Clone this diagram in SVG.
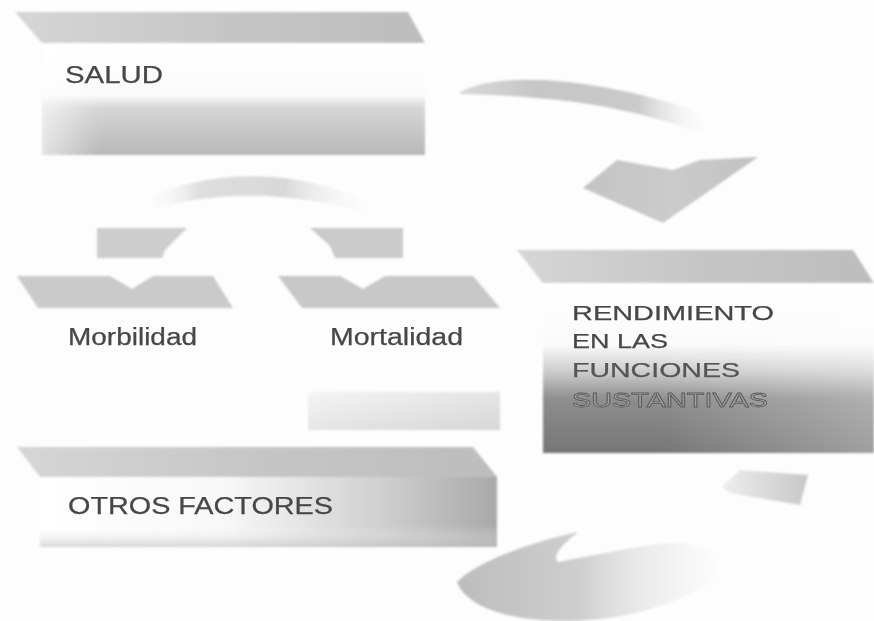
<svg xmlns="http://www.w3.org/2000/svg" width="874" height="621" viewBox="0 0 874 621">
<defs>
<style>
.lbl{font-family:"Liberation Sans",Arial,sans-serif;fill:#474747;stroke:#474747;stroke-width:0.25;}
.band{fill:url(#gBand);}
</style>
<filter id="soft" x="-5%" y="-5%" width="110%" height="110%"><feGaussianBlur stdDeviation="0.8"/></filter>
<linearGradient id="gBand" x1="0" y1="0" x2="1" y2="0">
<stop offset="0" stop-color="#d6d6d6"/><stop offset="0.5" stop-color="#c6c6c6"/><stop offset="1" stop-color="#bdbdbd"/>
</linearGradient>
<linearGradient id="gSaludFront" x1="0" y1="0" x2="0" y2="1">
<stop offset="0" stop-color="#ffffff"/><stop offset="0.46" stop-color="#fbfbfb"/><stop offset="0.58" stop-color="#d6d6d6"/><stop offset="1" stop-color="#b8b8b8"/>
</linearGradient>
<linearGradient id="gLeftFade" x1="0" y1="0" x2="1" y2="0">
<stop offset="0" stop-color="#ffffff" stop-opacity="0.6"/><stop offset="0.15" stop-color="#ffffff" stop-opacity="0"/>
</linearGradient>
<linearGradient id="gRendFront" x1="0" y1="0" x2="0" y2="1">
<stop offset="0" stop-color="#ffffff"/><stop offset="0.36" stop-color="#fbfbfb"/><stop offset="0.52" stop-color="#cdcdcd"/><stop offset="0.68" stop-color="#8e8e8e"/><stop offset="1" stop-color="#767676"/>
</linearGradient>
<linearGradient id="gRendSide" x1="0" y1="0" x2="1" y2="0">
<stop offset="0" stop-color="#ffffff" stop-opacity="0"/><stop offset="0.35" stop-color="#ffffff" stop-opacity="0"/><stop offset="1" stop-color="#ffffff" stop-opacity="0.3"/>
</linearGradient>
<linearGradient id="gOtrosFront" x1="0" y1="0" x2="1" y2="0">
<stop offset="0" stop-color="#ffffff"/><stop offset="0.4" stop-color="#f8f8f8"/><stop offset="0.75" stop-color="#cfcfcf"/><stop offset="1" stop-color="#a9a9a9"/>
</linearGradient>
<linearGradient id="gOtrosBottom" x1="0" y1="0" x2="0" y2="1">
<stop offset="0" stop-color="#ffffff" stop-opacity="0"/><stop offset="0.7" stop-color="#ffffff" stop-opacity="0"/><stop offset="1" stop-color="#bdbdbd" stop-opacity="0.6"/>
</linearGradient>
<linearGradient id="gArrow1" x1="460" y1="0" x2="715" y2="0" gradientUnits="userSpaceOnUse">
<stop offset="0" stop-color="#d8d8d8"/><stop offset="0.3" stop-color="#c6c6c6"/><stop offset="0.7" stop-color="#cacaca"/><stop offset="1" stop-color="#ffffff" stop-opacity="0"/>
</linearGradient>
<linearGradient id="gHead1" x1="0" y1="0" x2="1" y2="0">
<stop offset="0" stop-color="#c4c4c4"/><stop offset="0.5" stop-color="#cbcbcb"/><stop offset="1" stop-color="#c2c2c2"/>
</linearGradient>
<linearGradient id="gArc" x1="140" y1="0" x2="380" y2="0" gradientUnits="userSpaceOnUse">
<stop offset="0" stop-color="#ffffff" stop-opacity="0"/><stop offset="0.25" stop-color="#dedede"/><stop offset="0.6" stop-color="#d8d8d8"/><stop offset="1" stop-color="#ffffff" stop-opacity="0"/>
</linearGradient>
<linearGradient id="gFaint" x1="0" y1="0" x2="1" y2="1">
<stop offset="0" stop-color="#f2f2f2"/><stop offset="1" stop-color="#cccccc"/>
</linearGradient>
<linearGradient id="gScoop" x1="455" y1="0" x2="735" y2="0" gradientUnits="userSpaceOnUse">
<stop offset="0" stop-color="#bcbcbc"/><stop offset="0.45" stop-color="#cfcfcf"/><stop offset="1" stop-color="#ffffff" stop-opacity="0.3"/>
</linearGradient>
<linearGradient id="gSmall" x1="0" y1="0" x2="1" y2="0">
<stop offset="0" stop-color="#eeeeee"/><stop offset="1" stop-color="#c8c8c8"/>
</linearGradient>
</defs>
<rect width="874" height="621" fill="#fdfdfd"/>

<g id="connectors" filter="url(#soft)">
<path d="M460,92 C500,70 600,78 700,112 L705,135 C620,102 540,96 460,94 Z" fill="url(#gArrow1)"/>
<polygon points="583,188 617,160 673,170 700,160 758,157 663,223" fill="url(#gHead1)"/>
<path d="M140,200 Q255,150 380,205 L376,216 Q255,178 145,211 Z" fill="url(#gArc)"/>
<polygon points="97,228 187,228 165,250 162,258 97,258" fill="#cdcdcd"/>
<polygon points="310,228 403,228 403,258 335,258 330,246" fill="#cbcbcb"/>
<rect x="308" y="392" width="192" height="38" fill="url(#gFaint)" opacity="0.8"/>
<polygon points="722,487 740,470 808,475 800,505 730,493" fill="url(#gSmall)"/>
<path d="M457,582 C478,560 540,540 578,532 C562,545 552,555 558,562 C620,550 660,542 682,543 C705,548 722,556 733,566 C700,595 640,621 565,621 C505,621 465,605 457,582 Z" fill="url(#gScoop)"/>
</g>

<g id="salud" filter="url(#soft)">
<polygon points="15,12 408,12 425,43 42,43" class="band"/>
<rect x="42" y="43" width="383" height="112" fill="url(#gSaludFront)"/>
<rect x="42" y="43" width="383" height="112" fill="url(#gLeftFade)"/>
</g>
<text class="lbl" x="65" y="83" font-size="23" textLength="98" lengthAdjust="spacingAndGlyphs">SALUD</text>

<g id="morbilidad" filter="url(#soft)">
<polygon points="17,276 110,276 132,289 153,276 213,276 233,308 38,308" fill="#cacaca"/>
</g>
<text class="lbl" x="68" y="345" font-size="23" textLength="129" lengthAdjust="spacingAndGlyphs">Morbilidad</text>

<g id="mortalidad" filter="url(#soft)">
<polygon points="278,276 340,276 363,289 385,276 473,276 500,308 302,308" fill="#c8c8c8"/>
</g>
<text class="lbl" x="330" y="345" font-size="23" textLength="133" lengthAdjust="spacingAndGlyphs">Mortalidad</text>

<g id="rendimiento" filter="url(#soft)">
<polygon points="517,250 853,250 874,283 543,283" class="band"/>
<rect x="543" y="283" width="331" height="170" fill="url(#gRendFront)"/>
<rect x="543" y="283" width="331" height="170" fill="url(#gRendSide)"/>
</g>
<g id="rendimiento-text">
<text class="lbl" x="572" y="320" font-size="21" textLength="202" lengthAdjust="spacingAndGlyphs">RENDIMIENTO</text>
<text class="lbl" x="572" y="348" font-size="21" textLength="96" lengthAdjust="spacingAndGlyphs">EN LAS</text>
<text class="lbl" x="572" y="377" font-size="21" textLength="168" lengthAdjust="spacingAndGlyphs" style="fill:#555;stroke:#555">FUNCIONES</text>
<text class="lbl" x="572" y="407" font-size="21" textLength="196" lengthAdjust="spacingAndGlyphs" style="fill:#a2a2a2;stroke:#5a5a5a;stroke-width:0.8">SUSTANTIVAS</text>
</g>

<g id="otros" filter="url(#soft)">
<polygon points="17,447 473,447 497,477 40,477" class="band"/>
<rect x="40" y="477" width="457" height="70" fill="url(#gOtrosFront)"/>
<rect x="40" y="477" width="457" height="70" fill="url(#gOtrosBottom)"/>
</g>
<text class="lbl" x="68" y="514" font-size="23" textLength="265" lengthAdjust="spacingAndGlyphs">OTROS FACTORES</text>
</svg>
